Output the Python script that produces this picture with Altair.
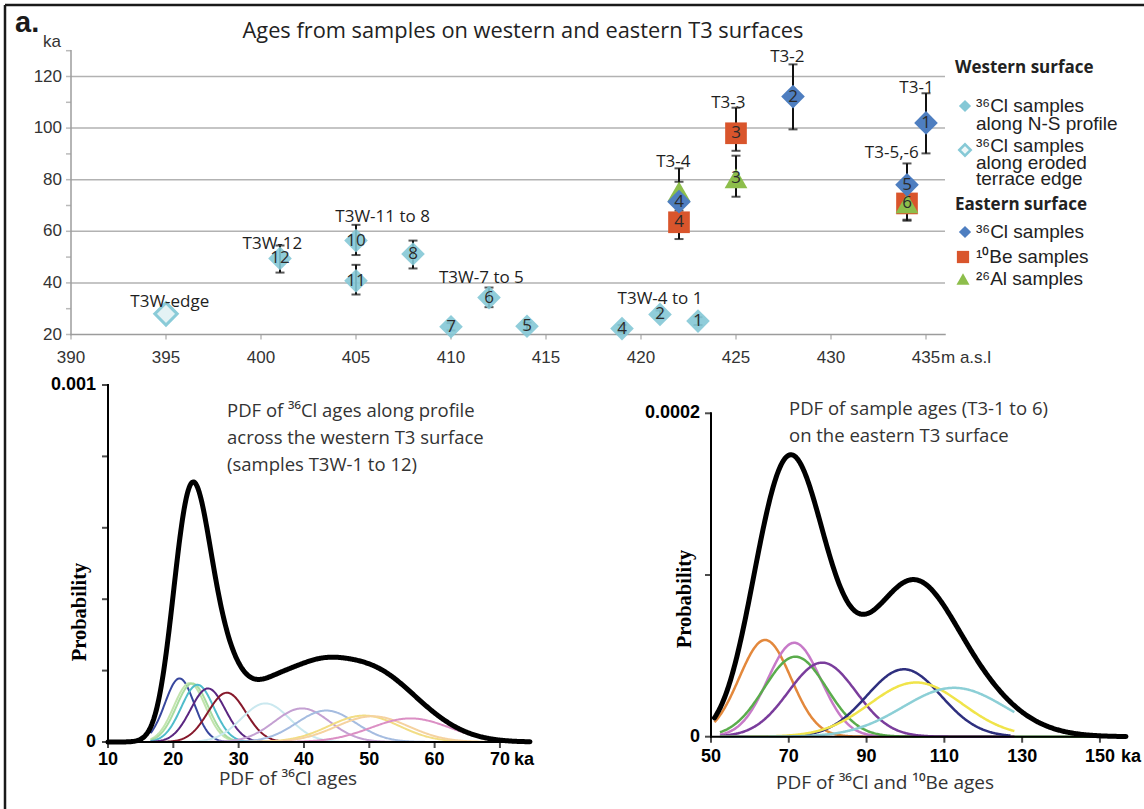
import altair as alt
import numpy as np
import pandas as pd

W, H = 1144, 809

# ---------------- top panel: sample ages against elevation ----------------
# western surface, 36Cl samples along the N-S profile
w_num = ["12", "10", "11", "8", "7", "6", "5", "4", "2", "1"]
w_elev = [401, 405, 405, 408, 410, 412, 414, 419, 421, 423]
w_age = [49.5, 56.4, 40.8, 51.2, 23.0, 34.3, 23.2, 22.3, 27.8, 25.2]
w_lo = [44.0, 50.8, 35.5, 45.6, 21.6, 30.6, 21.8, 20.9, 26.3, 23.7]
w_hi = [54.5, 62.5, 47.0, 56.4, 24.4, 38.2, 24.6, 23.7, 29.3, 26.7]

# western surface, eroded terrace edge
edge_elev = [395]
edge_age = [28.0]
edge_lo = [26.3]
edge_hi = [29.7]

# eastern surface
cl_num = ["1", "2", "4", "5"]
cl_elev = [435, 428, 422, 434]
cl_age = [102.0, 112.2, 71.5, 78.0]
cl_lo = [90.2, 99.5, 64.0, 70.0]
cl_hi = [113.5, 124.7, 79.2, 86.3]

be_num = ["3", "4", ""]
be_elev = [425, 422, 434]
be_age = [98.0, 63.5, 70.8]
be_lo = [91.2, 57.0, 64.1]
be_hi = [107.9, 70.0, 77.5]

al_num = ["3", "", "6"]
al_elev = [425, 422, 434]
al_age = [80.5, 75.5, 70.8]
al_lo = [73.4, 68.0, 64.5]
al_hi = [89.3, 84.4, 77.0]

grp_text = ["T3W-edge", "T3W-12", "T3W-11 to 8", "T3W-7 to 5", "T3W-4 to 1",
            "T3-4", "T3-3", "T3-2", "T3-5,-6", "T3-1"]
grp_elev = [395.2, 400.6, 406.4, 411.6, 421.0, 421.7, 424.6, 427.7, 433.2, 434.5]
grp_age = [30.8, 53.0, 63.7, 40.1, 31.8, 84.8, 107.7, 125.5, 88.3, 113.5]

# axis ticks and labels of the top panel
top_grid = [40, 60, 80, 100, 120]
top_yticks = [20, 30, 40, 50, 60, 70, 80, 90, 100, 110, 120, 130]
top_ylabels = [20, 40, 60, 80, 100, 120]
top_xticks = [390, 395, 400, 405, 410, 415, 420, 425, 430, 435]

# ---------------- bottom panels: age PDFs (age, 1-sigma in ka) ----------------
west_pdf_age = [20.95, 22.5, 22.9, 23.7, 25.3, 28.2, 34.1, 39.7, 43.4, 49.2, 50.5, 56.3]
west_pdf_sig = [2.24, 2.42, 2.43, 2.49, 2.66, 2.89, 3.69, 4.24, 4.53, 5.39, 5.54, 6.04]
west_pdf_col = ["#38479e", "#c2e4ae", "#a9dca0", "#4fbccb", "#5a2681", "#86182b",
                "#cae8ef", "#c4a0d2", "#a5bce0", "#f2dd84", "#f5d2a0", "#db8fc4"]

east_pdf_age = [63.9, 71.4, 71.7, 78.6, 99.6, 102.7, 112.5]
east_pdf_sig = [6.67, 6.87, 8.06, 8.71, 9.57, 11.9, 13.2]
east_pdf_col = ["#e3883c", "#c77ac8", "#5aac4c", "#7a3d9c", "#2e2f7e", "#f0e44a", "#8ccfd6"]
east_pdf_end = [128, 128, 156.5, 128, 127, 128, 128]

bl_xticks = [10, 20, 30, 40, 50, 60, 70]
bl_yticks = [0, 0.0002, 0.0004, 0.0006, 0.0008, 0.001]
bl_ylabels = [0, 0.001]
bl_ylabel_text = ["0", "0.001"]
br_xticks = [50, 70, 90, 110, 130, 150]
br_yticks = [0, 0.0001, 0.0002]
br_ylabels = [0, 0.0002]
br_ylabel_text = ["0", "0.0002"]


def gauss(t, mu, sig):
    # density per year for an age of mu +/- sig ka
    return np.exp(-0.5 * ((t - mu) / sig) ** 2) / (sig * 1000.0 * np.sqrt(2 * np.pi))


# ---------------- scales ----------------
XT = alt.Scale(domain=[390, 436], range=[71, 945], nice=False, zero=False)
YT = alt.Scale(domain=[20, 130], range=[334.5, 50.7], nice=False, zero=False)
XL = alt.Scale(domain=[10, 74.6], range=[108, 530], nice=False, zero=False)
YL = alt.Scale(domain=[0, 0.001], range=[742, 385], nice=False, zero=False)
XR = alt.Scale(domain=[50, 156.7], range=[711, 1126], nice=False, zero=False)
YR = alt.Scale(domain=[0, 0.0002], range=[736.7, 413.3], nice=False, zero=False)
XP = alt.Scale(domain=[0, W], range=[0, W], nice=False, zero=False)
YP = alt.Scale(domain=[0, H], range=[0, H], nice=False, zero=False)

MYRIAD = "Open Sans"
ARIAL = "Liberation Sans"


def enc(xs, ys, xf, yf):
    return dict(x=alt.X(f"{xf}:Q", scale=xs, axis=None), y=alt.Y(f"{yf}:Q", scale=ys, axis=None))


def axes(xs, ys, xdom, ydom, xticks, yticks, xlab, xlab_text, ylab, ylab_text,
         color, width, tick_len, font_style, x_dy, y_dx):
    """Axis lines, ticks and tick labels drawn through the panel's own scales."""
    lines = pd.DataFrame({"x0": [xdom[0], xdom[0]], "x1": [xdom[0], xdom[1]],
                          "y0": [ydom[0], ydom[0]], "y1": [ydom[1], ydom[0]]})
    dom = alt.Chart(lines).mark_rule(color=color, strokeWidth=width, strokeCap="square").encode(
        x2="x1:Q", y2="y1:Q", **enc(xs, ys, "x0", "y0"))
    xt = alt.Chart(pd.DataFrame({"v": xticks, "b": ydom[0]})).mark_tick(
        orient="vertical", size=tick_len, thickness=width, color=color, yOffset=tick_len / 2).encode(
        **enc(xs, ys, "v", "b"))
    yt = alt.Chart(pd.DataFrame({"v": yticks, "b": xdom[0]})).mark_tick(
        orient="horizontal", size=tick_len, thickness=width, color=color, xOffset=-tick_len / 2).encode(
        **enc(xs, ys, "b", "v"))
    xl = alt.Chart(pd.DataFrame({"v": xlab, "t": xlab_text, "b": ydom[0]})).mark_text(
        align="center", baseline="middle", dy=x_dy, **font_style).encode(
        text="t:N", **enc(xs, ys, "v", "b"))
    yl = alt.Chart(pd.DataFrame({"v": ylab, "t": ylab_text, "b": xdom[0]})).mark_text(
        align="right", baseline="middle", dx=y_dx, **font_style).encode(
        text="t:N", **enc(xs, ys, "b", "v"))
    return [dom, xt, yt, xl, yl]


# ---------------- top panel ----------------
grid_df = pd.DataFrame({"x0": 390, "x1": 436, "age": top_grid})
west = pd.DataFrame({"num": w_num, "elev": w_elev, "age": w_age, "lo": w_lo, "hi": w_hi})
edge = pd.DataFrame({"num": [""], "elev": edge_elev, "age": edge_age, "lo": edge_lo, "hi": edge_hi})
cl = pd.DataFrame({"num": cl_num, "elev": cl_elev, "age": cl_age, "lo": cl_lo, "hi": cl_hi})
be = pd.DataFrame({"num": be_num, "elev": be_elev, "age": be_age, "lo": be_lo, "hi": be_hi})
al = pd.DataFrame({"num": al_num, "elev": al_elev, "age": al_age, "lo": al_lo, "hi": al_hi})
allpts = pd.concat([west, edge, cl, be, al], ignore_index=True)
caps = pd.concat([allpts[["elev", "lo"]].rename(columns={"lo": "v"}),
                  allpts[["elev", "hi"]].rename(columns={"hi": "v"})], ignore_index=True)
nums = pd.concat([west, cl, be, al], ignore_index=True)
nums = nums[nums["num"] != ""]
grp = pd.DataFrame({"text": grp_text, "elev": grp_elev, "age": grp_age})

top_font = dict(font=ARIAL, fontSize=17, color="#333333")
top_axes = axes(XT, YT, [390, 436], [20, 130], top_xticks, top_yticks,
                top_xticks, [str(v) for v in top_xticks], top_ylabels, [str(v) for v in top_ylabels],
                "#9c9c9c", 1.5, 5, top_font, 23, -9)
masl = alt.Chart(pd.DataFrame({"e": [435], "a": [20]})).mark_text(
    text="m a.s.l", align="left", baseline="middle", dx=15, dy=23, **top_font).encode(**enc(XT, YT, "e", "a"))

g_rule = alt.Chart(grid_df).mark_rule(color="#b2b2b2", strokeWidth=1.5).encode(
    x2="x1:Q", **enc(XT, YT, "x0", "age"))
t_stem = alt.Chart(allpts).mark_rule(color="#111111", strokeWidth=2).encode(
    y2="hi:Q", **enc(XT, YT, "elev", "lo"))
t_caps = alt.Chart(caps).mark_tick(orient="horizontal", color="#111111", size=9, thickness=2).encode(
    **enc(XT, YT, "elev", "v"))
be_pts = alt.Chart(be).mark_point(shape="square", filled=True, size=470, color="#d9552c", opacity=1).encode(
    **enc(XT, YT, "elev", "age"))
al_pts = alt.Chart(al).mark_point(shape="triangle-up", filled=True, size=520, color="#8dbe4b", opacity=1).encode(
    **enc(XT, YT, "elev", "age"))
cl_pts = alt.Chart(cl).mark_point(shape="diamond", filled=True, size=560, color="#4e7ec0", opacity=1).encode(
    **enc(XT, YT, "elev", "age"))
west_pts = alt.Chart(west).mark_point(shape="diamond", filled=True, size=560, color="#84c8d6", opacity=0.9).encode(
    **enc(XT, YT, "elev", "age"))
edge_pts = alt.Chart(edge).mark_point(shape="diamond", filled=True, size=500, fill="#e4f2f4",
                                      stroke="#8acbd8", strokeWidth=3, opacity=1).encode(
    **enc(XT, YT, "elev", "age"))
num_txt = alt.Chart(nums).mark_text(font=MYRIAD, fontSize=17, color="#2b2b2b", baseline="middle").encode(
    text="num:N", **enc(XT, YT, "elev", "age"))
grp_txt = alt.Chart(grp).mark_text(font=MYRIAD, fontSize=17, color="#1e1e1e", baseline="alphabetic",
                                   align="center").encode(text="text:N", **enc(XT, YT, "elev", "age"))

top = alt.layer(g_rule, *top_axes, masl, t_stem, t_caps, be_pts, al_pts, cl_pts, west_pts, edge_pts,
                num_txt, grp_txt)

# ---------------- bottom-left panel ----------------
bold_font = dict(font=ARIAL, fontWeight="bold", fontSize=18, color="black")

tl = np.linspace(16.5, 71, 400)
rows = []
for i, (mu, s, c) in enumerate(zip(west_pdf_age, west_pdf_sig, west_pdf_col)):
    rows.append(pd.DataFrame({"t": tl, "p": gauss(tl, mu, s), "cid": i, "col": c}))
wl = pd.concat(rows, ignore_index=True)
tsum_l = np.linspace(10, 74.6, 500)
wsum = pd.DataFrame({"t": tsum_l, "p": sum(gauss(tsum_l, m, s) for m, s in zip(west_pdf_age, west_pdf_sig))})

bl_axes = axes(XL, YL, [10, 74.6], [0, 0.001], bl_xticks, bl_yticks,
               bl_xticks, [str(v) for v in bl_xticks], bl_ylabels, bl_ylabel_text,
               "black", 2, 6, bold_font, 18, -12)
bl_lines = alt.Chart(wl).mark_line(strokeWidth=2).encode(
    color=alt.Color("col:N", scale=None), detail="cid:N", order="t:Q", **enc(XL, YL, "t", "p"))
bl_sum = alt.Chart(wsum).mark_line(color="black", strokeWidth=5, strokeJoin="round", strokeCap="round").encode(
    **enc(XL, YL, "t", "p"))
bl_ka = alt.Chart(pd.DataFrame({"t": [70], "p": [0]})).mark_text(
    text="ka", align="left", baseline="middle", dx=14, dy=18, **bold_font).encode(**enc(XL, YL, "t", "p"))
bl = alt.layer(bl_lines, bl_sum, *bl_axes, bl_ka)

# ---------------- bottom-right panel ----------------
rows = []
for i, (mu, s, c, e) in enumerate(zip(east_pdf_age, east_pdf_sig, east_pdf_col, east_pdf_end)):
    t0 = 50.9 if i == 0 else 52.3
    te = np.linspace(t0, e, 400)
    rows.append(pd.DataFrame({"t": te, "p": gauss(te, mu, s), "cid": i, "col": c}))
el = pd.concat(rows, ignore_index=True)
tsum_r = np.linspace(50.9, 156.7, 500)
esum = pd.DataFrame({"t": tsum_r, "p": sum(gauss(tsum_r, m, s) for m, s in zip(east_pdf_age, east_pdf_sig))})

br_axes = axes(XR, YR, [50, 156.7], [0, 0.0002], br_xticks, br_yticks,
               br_xticks, [str(v) for v in br_xticks], br_ylabels, br_ylabel_text,
               "black", 2, 6, bold_font, 20, -11)
br_lines = alt.Chart(el).mark_line(strokeWidth=2.5).encode(
    color=alt.Color("col:N", scale=None), detail="cid:N", order="t:Q", **enc(XR, YR, "t", "p"))
br_sum = alt.Chart(esum).mark_line(color="black", strokeWidth=5, strokeJoin="round", strokeCap="round").encode(
    **enc(XR, YR, "t", "p"))
br_ka = alt.Chart(pd.DataFrame({"t": [150], "p": [0]})).mark_text(
    text="ka", align="left", baseline="middle", dx=21, dy=20, **bold_font).encode(**enc(XR, YR, "t", "p"))
br = alt.layer(br_lines, br_sum, *br_axes, br_ka)

# ---------------- titles, notes, legend and frame (page layout in pixels) ----------------
def ptext(rows, **style):
    df = pd.DataFrame(rows, columns=["text", "px", "py"])
    return alt.Chart(df).mark_text(**style).encode(text="text:N", **enc(XP, YP, "px", "py"))


def psym(rows, **style):
    df = pd.DataFrame(rows, columns=["px", "py"])
    return alt.Chart(df).mark_point(**style).encode(**enc(XP, YP, "px", "py"))


frame = alt.Chart(pd.DataFrame({"x0": [5, 5], "y0": [5, 5], "x1": [W, 5], "y1": [5, H]})).mark_rule(
    color="#1a1a1a", strokeWidth=2.5).encode(x2="x1:Q", y2="y1:Q", **enc(XP, YP, "x0", "y0"))

panel_tag = ptext([["a.", 15, 32]], font=ARIAL, fontWeight="bold", fontSize=29, color="#1a1a1a",
                  align="left", baseline="alphabetic")
ka_top = ptext([["ka", 52, 47]], align="center", baseline="alphabetic", **top_font)
main_title = ptext([["Ages from samples on western and eastern T3 surfaces", 523, 38]],
                   font=MYRIAD, fontSize=21.8, color="#222222", align="center", baseline="alphabetic")
notes = ptext([["PDF of \u00b3\u2076Cl ages along profile", 227, 417],
               ["across the western T3 surface", 227, 444],
               ["(samples T3W-1 to 12)", 227, 471],
               ["PDF of sample ages (T3-1 to 6)", 789, 415],
               ["on the eastern T3 surface", 789, 442]],
              font=MYRIAD, fontSize=18.5, color="#333333", align="left", baseline="alphabetic")
x_titles = ptext([["PDF of \u00b3\u2076Cl  ages", 288, 785],
                  ["PDF of \u00b3\u2076Cl and \u00b9\u2070Be ages", 885, 789]],
                 font=MYRIAD, fontSize=19, color="#333333", align="center", baseline="alphabetic")
y_titles = ptext([["Probability", 80, 612], ["Probability", 685, 599]],
                 font="Liberation Serif", fontWeight="bold", fontSize=20.5, color="black",
                 align="center", baseline="middle", angle=270)
leg_head = ptext([["Western surface", 955, 73], ["Eastern surface", 955, 210]],
                 font=MYRIAD, fontWeight="bold", fontSize=17, color="#222222", align="left",
                 baseline="alphabetic")
leg_text = ptext([["\u00b3\u2076Cl samples", 976, 112], ["along N-S profile", 976, 130],
                  ["\u00b3\u2076Cl samples", 976, 152], ["along eroded", 976, 169],
                  ["terrace edge", 976, 185],
                  ["\u00b3\u2076Cl samples", 976, 238], ["\u00b9\u2070Be samples", 976, 263],
                  ["\u00b2\u2076Al samples", 976, 285]],
                 font=ARIAL, fontSize=19, color="#222222", align="left", baseline="alphabetic")
leg_w = psym([[965, 106]], shape="diamond", filled=True, size=150, color="#84c8d6", opacity=1)
leg_e = psym([[965, 150]], shape="diamond", filled=True, size=130, fill="#eef7f8", stroke="#86c9d6",
             strokeWidth=2.5, opacity=1)
leg_cl = psym([[965, 232]], shape="diamond", filled=True, size=150, color="#4e7ec0", opacity=1)
leg_be = psym([[963, 257]], shape="square", filled=True, size=150, color="#d9552c", opacity=1)
leg_al = psym([[963, 279]], shape="triangle-up", filled=True, size=170, color="#8dbe4b", opacity=1)

page = alt.layer(frame, panel_tag, ka_top, main_title, notes, x_titles, y_titles, leg_head, leg_text,
                 leg_w, leg_e, leg_cl, leg_be, leg_al)

chart = alt.layer(top, bl, br, page).resolve_scale(
    x="independent", y="independent").properties(
    width=W, height=H, autosize=alt.AutoSizeParams(type="none"), padding=0,
    background="white").configure_view(stroke=None)

chart.save("out.html", embed_options={"renderer": "svg", "actions": False})
